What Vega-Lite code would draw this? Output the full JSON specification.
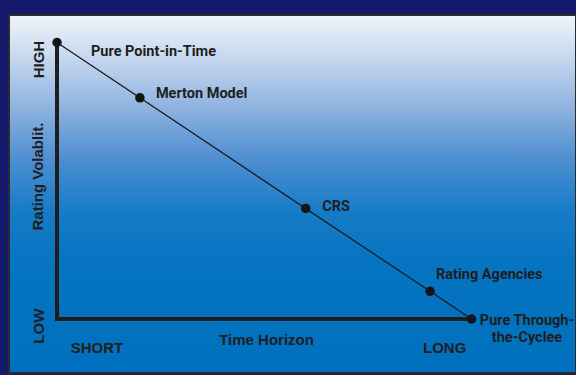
{
  "$schema": "https://vega.github.io/schema/vega-lite/v6.json",
  "width": 567,
  "height": 358,
  "autosize": {"type": "none"},
  "padding": {"left": 9, "top": 15, "right": 0, "bottom": 2},
  "background": "#15196b",
  "config": {
    "view": {
      "fill": {
        "gradient": "linear",
        "x1": 0, "y1": 0, "x2": 0, "y2": 1,
        "stops": [
          {"offset": 0, "color": "#f0f4fb"},
          {"offset": 0.12, "color": "#c6d7ee"},
          {"offset": 0.25, "color": "#92b5e0"},
          {"offset": 0.4, "color": "#4f8fd1"},
          {"offset": 0.55, "color": "#167bc7"},
          {"offset": 0.7, "color": "#0574c1"},
          {"offset": 1, "color": "#0071be"}
        ]
      },
      "stroke": "#2b2b2b",
      "strokeWidth": 2
    },
    "axis": {
      "labelFont": "Liberation Sans",
      "titleFont": "Liberation Sans",
      "labelFontWeight": "bold",
      "titleFontWeight": "bold",
      "labelFontSize": 15,
      "titleFontSize": 15,
      "labelColor": "#1e1e1e",
      "titleColor": "#1e1e1e",
      "grid": false,
      "domain": false,
      "ticks": false,
      "tickSize": 0,
      "labelPadding": 0
    },
    "text": {"font": "Roboto", "fontWeight": "bold", "fontSize": 14.5, "color": "#1e1e1e"}
  },
  "data": {
    "values": [
      {"model": "Pure Point-in-Time", "horizon": 0, "volatility": 100},
      {"model": "Merton Model", "horizon": 20, "volatility": 80},
      {"model": "CRS", "horizon": 60, "volatility": 40},
      {"model": "Rating Agencies", "horizon": 90, "volatility": 10},
      {"model": "Pure Through-\nthe-Cyclee", "horizon": 100, "volatility": 0}
    ]
  },
  "encoding": {
    "x": {
      "field": "horizon",
      "type": "quantitative",
      "scale": {"domain": [-11.58, 125.21], "nice": false, "zero": false},
      "axis": {
        "orient": "bottom",
        "title": "Time Horizon",
        "values": [9.53, 93.4],
        "labelExpr": "datum.value < 50 ? 'SHORT' : 'LONG'",
        "labelAlign": "center",
        "labelBaseline": "alphabetic",
        "labelAngle": 0,
        "offset": -21,
        "titleX": 257,
        "titleY": -8,
        "titleAlign": "center",
        "titleBaseline": "alphabetic"
      }
    },
    "y": {
      "field": "volatility",
      "type": "quantitative",
      "scale": {"domain": [-19.53, 109.95], "nice": false, "zero": false},
      "axis": {
        "orient": "left",
        "title": "Rating Volablit.",
        "values": [-2.4, 94.0],
        "labelExpr": "datum.value < 50 ? 'LOW' : 'HIGH'",
        "labelAngle": -90,
        "labelAlign": "center",
        "labelBaseline": "alphabetic",
        "offset": -34.5,
        "titleAngle": -90,
        "titleX": -6.5,
        "titleY": 161,
        "titleAlign": "center",
        "titleBaseline": "middle"
      }
    }
  },
  "layer": [
    {
      "mark": {"type": "rule", "strokeWidth": 3.5, "color": "#1e1e1e", "strokeCap": "square"},
      "encoding": {"x": {"datum": 0}, "y": {"datum": 0}, "y2": {"datum": 100}}
    },
    {
      "mark": {"type": "rule", "strokeWidth": 3, "color": "#1e1e1e", "strokeCap": "square"},
      "encoding": {"y": {"datum": 0}, "x": {"datum": 0}, "x2": {"datum": 100}}
    },
    {
      "mark": {"type": "line", "strokeWidth": 1.2, "color": "#151515"},
      "encoding": {"order": {"field": "horizon", "type": "quantitative"}}
    },
    {
      "mark": {"type": "point", "filled": true, "opacity": 1, "size": 90, "color": "#151515"}
    },
    {
      "transform": [{"filter": "datum.model === 'Pure Point-in-Time'"}],
      "mark": {"type": "text", "align": "left", "baseline": "middle", "dx": 34, "dy": 9},
      "encoding": {"text": {"field": "model"}}
    },
    {
      "transform": [{"filter": "datum.model === 'Merton Model'"}],
      "mark": {"type": "text", "align": "left", "baseline": "middle", "dx": 16, "dy": -3.5},
      "encoding": {"text": {"field": "model"}}
    },
    {
      "transform": [{"filter": "datum.model === 'CRS'"}],
      "mark": {"type": "text", "align": "left", "baseline": "middle", "dx": 16.5, "dy": -1.5},
      "encoding": {"text": {"field": "model"}}
    },
    {
      "transform": [{"filter": "datum.model === 'Rating Agencies'"}],
      "mark": {"type": "text", "align": "left", "baseline": "middle", "dx": 6, "dy": -16.5},
      "encoding": {"text": {"field": "model"}}
    },
    {
      "transform": [{"filter": "datum.horizon === 100"}],
      "mark": {"type": "text", "align": "center", "baseline": "middle", "dx": 55.5, "dy": 1.5, "lineBreak": "\n", "lineHeight": 17.5},
      "encoding": {"text": {"field": "model"}}
    }
  ]
}
